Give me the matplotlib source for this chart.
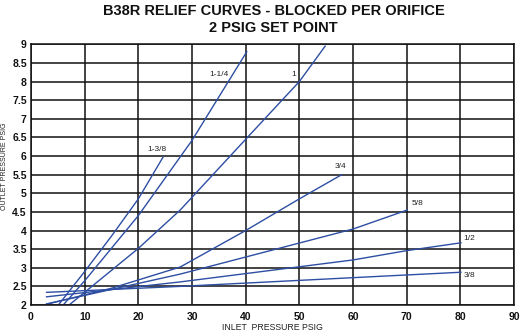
import matplotlib
matplotlib.use('Agg')
import matplotlib.pyplot as plt
import numpy as np

plt.rcParams['font.family'] = ['Liberation Sans Narrow', 'Liberation Sans', 'DejaVu Sans']

# curves: (inlet psig, outlet psig)
x_138 = [5.1, 10, 15, 20, 24.6]
y_138 = [2.0, 2.9, 3.85, 4.85, 5.97]
x_114 = [6.0, 10, 20, 30, 40.2]
y_114 = [2.0, 2.65, 4.4, 6.42, 8.8]
x_1 = [7.1, 20, 27.8, 40, 50, 54.8]
y_1 = [2.0, 3.52, 4.55, 6.45, 8.0, 8.95]
x_34 = [2.9, 15, 27.8, 40, 50, 57.9]
y_34 = [2.02, 2.45, 3.02, 4.0, 4.85, 5.5]
x_58 = [2.9, 27.8, 60, 70.1]
y_58 = [2.03, 2.83, 4.04, 4.55]
x_12 = [2.9, 27.8, 60, 70, 80.1]
y_12 = [2.22, 2.62, 3.21, 3.46, 3.67]
x_38 = [2.9, 27.8, 80.1]
y_38 = [2.34, 2.5, 2.88]

curves = [
    (x_138, y_138, '1-3/8', 21.7, 6.08),
    (x_114, y_114, '1-1/4', 33.3, 8.1),
    (x_1, y_1, '1', 48.5, 8.1),
    (x_34, y_34, '3/4', 56.6, 5.62),
    (x_58, y_58, '5/8', 71.0, 4.62),
    (x_12, y_12, '1/2', 80.6, 3.68),
    (x_38, y_38, '3/8', 80.6, 2.7),
]

fig = plt.figure(figsize=(5.2, 3.32), dpi=100)
ax = fig.add_axes([0.0596, 0.0813, 0.929, 0.7853])

blue = '#2d4ea3'
for xs, ys, name, lx, ly in curves:
    ax.plot(xs, ys, color=blue, lw=1.0)
    ax.text(lx, ly, name, fontsize=6, color='#222222', ha='left', va='bottom')

ax.set_xlim(0, 90)
ax.set_ylim(2, 9)
ax.set_xticks(np.arange(0, 91, 10))
ax.set_yticks(np.arange(2, 9.01, 0.5))
ax.set_yticklabels(['2', '2.5', '3', '3.5', '4', '4.5', '5', '5.5', '6', '6.5',
                    '7', '7.5', '8', '8.5', '9'])
ax.grid(True, color='#111111', lw=1.1)
ax.set_axisbelow(True)
for s in ax.spines.values():
    s.set_color('#111111')
    s.set_linewidth(1.1)
ax.tick_params(length=0, labelsize=7.5, colors='#111111')
ax.tick_params(axis='y', pad=3)
ax.tick_params(axis='x', pad=5)
for lab in ax.get_xticklabels() + ax.get_yticklabels():
    lab.set_fontweight('bold')

ax.set_xlabel('INLET  PRESSURE PSIG', fontsize=6.3, color='#222222', labelpad=0.5)
fig.text(0.009, 0.5, 'OUTLET PRESSURE PSIG', rotation=90, fontsize=5,
         color='#222222', ha='center', va='center')

fig.text(0.526, 0.967, 'B38R RELIEF CURVES - BLOCKED PER ORIFICE', fontsize=10.5,
         fontweight='bold', color='#111111', ha='center', va='center')
fig.text(0.526, 0.917, '2 PSIG SET POINT', fontsize=10.5,
         fontweight='bold', color='#111111', ha='center', va='center')

fig.savefig('out.png', dpi=100)
